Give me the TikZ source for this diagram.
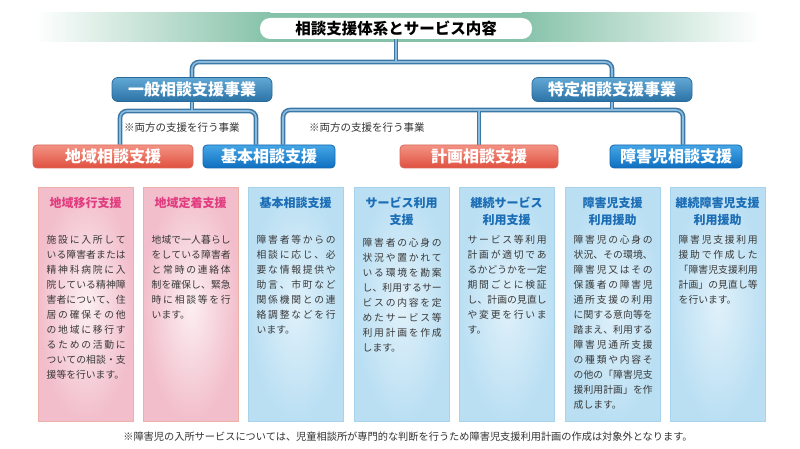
\documentclass[tikz,border=0pt]{standalone}
\usepackage{fontspec}
\setmainfont{Noto Sans CJK JP}
\usetikzlibrary{backgrounds,calc}
\definecolor{bandg}{HTML}{86C2A9}
\definecolor{connD}{HTML}{3C78A6}
\definecolor{connL}{HTML}{8BBADB}
\definecolor{ltop}{HTML}{62A8D5}
\definecolor{lbot}{HTML}{2B72A6}
\definecolor{lbd}{HTML}{2A6A9A}
\definecolor{redtop}{HTML}{F39384}
\definecolor{redbot}{HTML}{E0503F}
\definecolor{redbd}{HTML}{D9685B}
\definecolor{bluetop}{HTML}{45A6E6}
\definecolor{bluebot}{HTML}{0F6FC0}
\definecolor{bluebd}{HTML}{1467B0}
\definecolor{pinkin}{HTML}{FCEFF2}
\definecolor{pinkout}{HTML}{F2BECB}
\definecolor{pinkbd}{HTML}{EBB0A6}
\definecolor{skyin}{HTML}{E0F1FA}
\definecolor{skyout}{HTML}{BADFF3}
\definecolor{skybd}{HTML}{A8D3EC}
\definecolor{pinkhd}{HTML}{E23C80}
\definecolor{bluehd}{HTML}{1B6DB6}
\definecolor{bodytx}{HTML}{383838}
\definecolor{notetx}{HTML}{333333}
\newlength\jw \setlength\jw{79pt}
\def\jsp#1#2\jend{#1\ifx\relax#2\relax\else\hfill\jsp#2\jend\fi}
\newcommand\jj[1]{\hbox to \jw{\jsp#1\jend}}
\newcommand\jlast[1]{\hbox{#1}}
\newcommand\bodytext[1]{\parbox[t]{\jw}{\fontsize{9.8}{15}\selectfont #1}}
\newcommand\drawwires[1]{%
 \draw[#1] (gen.north) |- (j0) -| (spec.north);
 \draw[#1] (title.south) -- (j0);
 \draw[#1] (a1 |- chiiki.north) -- (a1) -- (a2) -- (a2 |- kihon.north);
 \draw[#1] (gen.south) -- (gen.south |- a1);
 \draw[#1] (b1 |- kihon.north) -- (b1) -- (b2) -- (b2 |- shogaiji.north);
 \draw[#1] (spec.south) -- (spec.south |- b1);
 \draw[#1] (keikaku.north) -- (keikaku.north |- b1);
}
\tikzset{
 wiredark/.style={draw=connD, line width=4.6pt, rounded corners=7pt},
 wirelight/.style={draw=connL, line width=1.6pt, rounded corners=7pt},
 pill/.style={fill=white, rounded corners=10pt, minimum width=272pt, minimum height=21pt, inner sep=0pt, font=\fontsize{15.5}{16}\selectfont\bfseries},
 lvtwo/.style={rounded corners=6pt, minimum width=160pt, minimum height=24pt, top color=ltop, bottom color=lbot, draw=lbd, line width=0.8pt, text=white, inner sep=0pt, font=\fontsize{16}{16}\selectfont\bfseries},
 redbtn/.style={rounded corners=4pt, minimum height=23pt, top color=redtop, bottom color=redbot, draw=redbd, line width=0.8pt, text=white, inner sep=0pt, font=\fontsize{16}{16}\selectfont\bfseries},
 bluebtn/.style={rounded corners=4pt, minimum height=23pt, top color=bluetop, bottom color=bluebot, draw=bluebd, line width=0.8pt, text=white, inner sep=0pt, font=\fontsize{16}{16}\selectfont\bfseries},
 note/.style={anchor=west, inner sep=0pt, text=notetx, font=\fontsize{10.5}{12}\selectfont},
 card/.style={minimum width=95pt, minimum height=234pt, anchor=north west, inner sep=0pt, line width=0.8pt},
 pinkcard/.style={card, draw=pinkbd, inner color=pinkin, outer color=pinkout},
 skycard/.style={card, draw=skybd, inner color=skyin, outer color=skyout},
 pinkhead/.style={inner sep=0pt, align=center, text=pinkhd, font=\fontsize{12}{17}\selectfont\bfseries},
 bluehead/.style={inner sep=0pt, align=center, text=bluehd, font=\fontsize{12}{17}\selectfont\bfseries},
 body/.style={anchor=base west, inner sep=0pt, text=bodytx},
 foot/.style={inner sep=0pt, text=notetx, font=\fontsize{10.2}{12}\selectfont}
}
\begin{document}
\begin{tikzpicture}[x=1pt,y=-1pt]
\useasboundingbox (0,0) rectangle (800,449);
\node[pill] (title) at (396,28.5) {相談支援体系とサービス内容};
% level 2
\node[lvtwo] (gen) at (192,89.5) {一般相談支援事業};
\node[lvtwo] (spec) at (612,89.5) {特定相談支援事業};
% level 3
\node[redbtn, minimum width=160pt] (chiiki) at (113,156.5) {地域相談支援};
\node[bluebtn, minimum width=132pt] (kihon) at (269,156.5) {基本相談支援};
\node[redbtn, minimum width=158pt] (keikaku) at (479,156.5) {計画相談支援};
\node[bluebtn, minimum width=132pt] (shogaiji) at (676,156.5) {障害児相談支援};
% notes
\node[note] (n1) at (124,128) {※両方の支援を行う事業};
\node[note] (n2) at (309,128) {※両方の支援を行う事業};
% junctions
\coordinate (j0) at (396,62);
\coordinate (a1) at (120,111);
\coordinate (a2) at (256,111);
\coordinate (b1) at (283,110);
\coordinate (b2) at (683,110);
\begin{pgfonlayer}{background}
\fill[white] (0,0) rectangle (800,449);
\shade[left color=white, right color=bandg] (35,13) rectangle (270,42);
\fill[bandg] (269.5,13) rectangle (522.5,42);
\shade[left color=bandg, right color=white] (522,13) rectangle (760,42);
\drawwires{wiredark}
\drawwires{wirelight}
\end{pgfonlayer}
% cards
\node[pinkcard] (c1) at (38,187) {};
\node[pinkcard] (c2) at (143,187) {};
\node[skycard] (c3) at (248,187) {};
\node[skycard] (c4) at (354,187) {};
\node[skycard] (c5) at (459,187) {};
\node[skycard] (c6) at (565,187) {};
\node[skycard] (c7) at (670,187) {};
% headings
\node[pinkhead] (h1) at (85.5,203) {地域移行支援};
\node[pinkhead] (h2) at (190.5,203) {地域定着支援};
\node[bluehead] (h3) at (295.5,203) {基本相談支援};
\node[bluehead] (h4) at (401.5,211.5) {サービス利用\\支援};
\node[bluehead] (h5) at (506.5,211.5) {継続サービス\\利用支援};
\node[bluehead] (h6) at (612.5,211.5) {障害児支援\\利用援助};
\node[bluehead] (h7) at (717.5,211.5) {継続障害児支援\\利用援助};
% bodies
\node[body] (t1) at (46.5,243.2) {\bodytext{\jj{施設に入所して}\jj{いる障害者または}\jj{精神科病院に入}\jj{院している精神障}\jj{害者について、住}\jj{居の確保その他}\jj{の地域に移行す}\jj{るための活動に}\jj{ついての相談・支}\jlast{援等を行います。}}};
\node[body] (t2) at (151.5,243.2) {\bodytext{\jj{地域で一人暮らし}\jj{をしている障害者}\jj{と常時の連絡体}\jj{制を確保し、緊急}\jj{時に相談等を行}\jlast{います。}}};
\node[body] (t3) at (256.5,243.2) {\bodytext{\jj{障害者等からの}\jj{相談に応じ、必}\jj{要な情報提供や}\jj{助言、市町など}\jj{関係機関との連}\jj{絡調整などを行}\jlast{います。}}};
\node[body] (t4) at (362.5,246.2) {\bodytext{\jj{障害者の心身の}\jj{状況や置かれて}\jj{いる環境を勘案}\jj{し、利用するサー}\jj{ビスの内容を定}\jj{めたサービス等}\jj{利用計画を作成}\jlast{します。}}};
\node[body] (t5) at (467.5,243.2) {\bodytext{\jj{サービス等利用}\jj{計画が適切であ}\jj{るかどうかを一定}\jj{期間ごとに検証}\jj{し、計画の見直し}\jj{や変更を行いま}\jlast{す。}}};
\node[body] (t6) at (573.5,243.2) {\bodytext{\jj{障害児の心身の}\jj{状況、その環境、}\jj{障害児又はその}\jj{保護者の障害児}\jj{通所支援の利用}\jj{に関する意向等を}\jj{踏まえ、利用する}\jj{障害児通所支援}\jj{の種類や内容そ}\jj{の他の「障害児支}\jj{援利用計画」を作}\jlast{成します。}}};
\node[body] (t7) at (678.5,243.2) {\bodytext{\jj{障害児支援利用}\jj{援助で作成した}\jj{「障害児支援利用}\jj{計画」の見直し等}\jlast{を行います。}}};
% footnote
\node[foot] (fn) at (408,437) {※障害児の入所サービスについては、児童相談所が専門的な判断を行うため障害児支援利用計画の作成は対象外となります。};
\end{tikzpicture}
\end{document}
